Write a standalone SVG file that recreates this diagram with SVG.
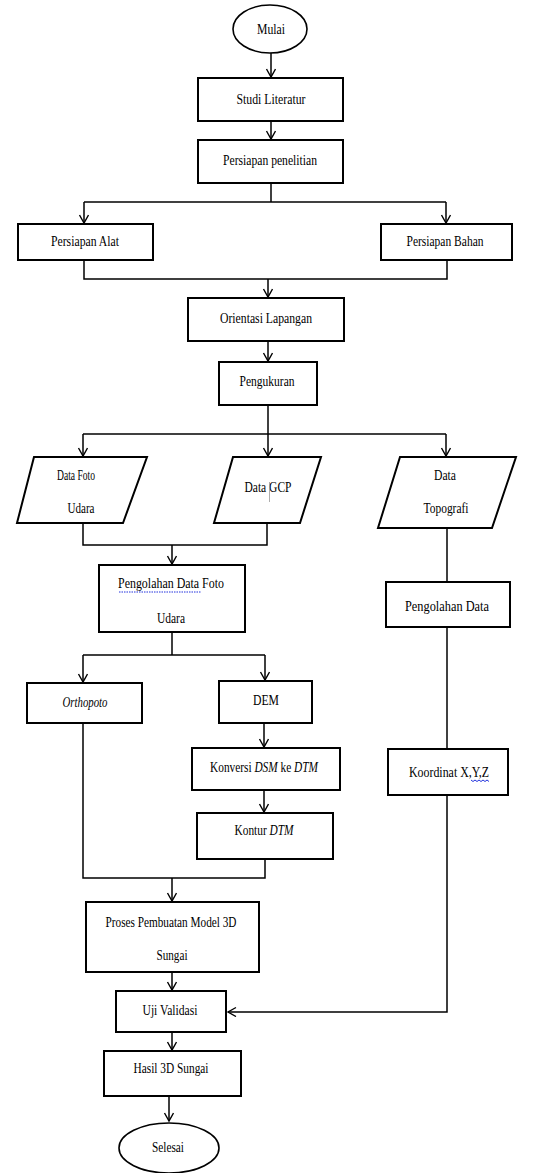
<svg xmlns="http://www.w3.org/2000/svg" width="533" height="1173" viewBox="0 0 533 1173">
<defs>
<marker id="arr" markerUnits="userSpaceOnUse" markerWidth="12" markerHeight="12" refX="9" refY="5" orient="auto">
<path d="M1,0.5 L9,5 L1,9.5" fill="none" stroke="#000" stroke-width="1.4"/>
</marker>
<style>
.box{fill:#fff;stroke:#000;stroke-width:2}
.t{font-family:"Liberation Serif","Times New Roman",serif;font-size:15px;fill:#000;text-anchor:middle}
.it{font-style:italic}
.ln{fill:none;stroke:#000;stroke-width:1.5}
.ar{fill:none;stroke:#000;stroke-width:1.5;marker-end:url(#arr)}
.sq{fill:none;stroke:#2233dd;stroke-width:1;stroke-dasharray:1.5 1}
</style>
</defs>
<rect width="533" height="1173" fill="#fff"/>
<g id="connectors">
<line class="ar" x1="271" y1="53" x2="271" y2="77"/>
<line class="ar" x1="271" y1="121" x2="271" y2="139"/>
<polyline class="ln" points="271,183 271,202"/>
<polyline class="ln" points="84,202 446,202"/>
<line class="ar" x1="84" y1="202" x2="84" y2="223"/>
<line class="ar" x1="446" y1="202" x2="446" y2="223"/>
<polyline class="ln" points="84,260 84,279 447,279 447,260"/>
<line class="ar" x1="268" y1="279" x2="268" y2="297"/>
<line class="ar" x1="268" y1="341" x2="268" y2="361"/>
<polyline class="ln" points="268,405 268,434"/>
<polyline class="ln" points="83,434 446,434"/>
<line class="ar" x1="83" y1="434" x2="83" y2="456"/>
<line class="ar" x1="268" y1="434" x2="268" y2="456"/>
<line class="ar" x1="446" y1="434" x2="446" y2="456"/>
<polyline class="ln" points="83,523 83,545 267,545 267,523"/>
<line class="ar" x1="172" y1="545" x2="172" y2="564"/>
<polyline class="ln" points="447,528 447,582"/>
<polyline class="ln" points="172,632 172,655"/>
<polyline class="ln" points="83,655 265,655"/>
<line class="ar" x1="83" y1="655" x2="83" y2="682"/>
<line class="ar" x1="265" y1="655" x2="265" y2="680"/>
<line class="ar" x1="264" y1="723" x2="264" y2="747"/>
<line class="ar" x1="264" y1="790" x2="264" y2="812"/>
<polyline class="ln" points="83,723 83,878 265,878 265,859"/>
<line class="ar" x1="172" y1="878" x2="172" y2="901"/>
<polyline class="ln" points="447,627 447,749"/>
<polyline class="ar" points="447,795 447,1012 228,1012"/>
<line class="ar" x1="172" y1="972" x2="172" y2="990"/>
<line class="ar" x1="172" y1="1032" x2="172" y2="1050"/>
<line class="ar" x1="169" y1="1096" x2="169" y2="1121"/>
</g>
<g id="mulai">
<ellipse cx="270" cy="29" rx="37" ry="24" fill="#fff" stroke="#000" stroke-width="1.6"/>
<text class="t" x="271" y="34" textLength="28" lengthAdjust="spacingAndGlyphs">Mulai</text>
</g>
<g id="studi">
<rect class="box" x="198" y="78" width="145" height="43"/>
<text class="t" x="271" y="104" textLength="69" lengthAdjust="spacingAndGlyphs">Studi Literatur</text>
</g>
<g id="persiapan-penelitian">
<rect class="box" x="198" y="140" width="145" height="43"/>
<text class="t" x="270" y="165" textLength="94" lengthAdjust="spacingAndGlyphs">Persiapan penelitian</text>
</g>
<g id="persiapan-alat">
<rect class="box" x="18" y="224" width="135" height="36"/>
<text class="t" x="85" y="246" textLength="68" lengthAdjust="spacingAndGlyphs">Persiapan Alat</text>
</g>
<g id="persiapan-bahan">
<rect class="box" x="381" y="224" width="131" height="36"/>
<text class="t" x="445" y="246" textLength="77" lengthAdjust="spacingAndGlyphs">Persiapan Bahan</text>
</g>
<g id="orientasi">
<rect class="box" x="188" y="298" width="156" height="43"/>
<text class="t" x="266" y="323" textLength="92" lengthAdjust="spacingAndGlyphs">Orientasi Lapangan</text>
</g>
<g id="pengukuran">
<rect class="box" x="219" y="362" width="98" height="43"/>
<text class="t" x="267" y="386" textLength="55" lengthAdjust="spacingAndGlyphs">Pengukuran</text>
</g>
<g id="data-foto-udara">
<polygon class="box" points="34,457 147,457 123,523 17,523"/>
<text class="t" x="76" y="480" textLength="38" lengthAdjust="spacingAndGlyphs">Data Foto</text>
<text class="t" x="81" y="513" textLength="27" lengthAdjust="spacingAndGlyphs">Udara</text>
</g>
<g id="data-gcp">
<polygon class="box" points="233,457 321,457 300,523 214,523"/>
<text class="t" x="268" y="492" textLength="47" lengthAdjust="spacingAndGlyphs">Data GCP</text>
<line x1="269.5" y1="482" x2="269.5" y2="502" stroke="#999" stroke-width="0.8"/>
</g>
<g id="data-topografi">
<polygon class="box" points="400,457 516,457 492,528 378,528"/>
<text class="t" x="445" y="480" textLength="22" lengthAdjust="spacingAndGlyphs">Data</text>
<text class="t" x="446" y="513" textLength="45" lengthAdjust="spacingAndGlyphs">Topografi</text>
</g>
<g id="pengolahan-foto">
<rect class="box" x="99" y="565" width="146" height="67"/>
<text class="t" x="171" y="588" textLength="106" lengthAdjust="spacingAndGlyphs">Pengolahan Data Foto</text>
<text class="t" x="171" y="623" textLength="28" lengthAdjust="spacingAndGlyphs">Udara</text>
<line class="sq" x1="119" y1="592" x2="201" y2="592"/>
</g>
<g id="pengolahan-data">
<rect class="box" x="386" y="582" width="124" height="45"/>
<text class="t" x="447" y="611" font-size="17" textLength="84" lengthAdjust="spacingAndGlyphs">Pengolahan Data</text>
</g>
<g id="orthopoto">
<rect class="box" x="27" y="683" width="115" height="40"/>
<text class="t it" x="85" y="707" font-family="Liberation Sans, Arial, sans-serif" font-size="13" textLength="45" lengthAdjust="spacingAndGlyphs">Orthopoto</text>
</g>
<g id="dem">
<rect class="box" x="219" y="681" width="93" height="42"/>
<text class="t" x="266" y="705" font-size="16" textLength="26" lengthAdjust="spacingAndGlyphs">DEM</text>
</g>
<g id="konversi">
<rect class="box" x="192" y="748" width="148" height="42"/>
<text class="t" transform="translate(264,772) scale(0.755,1)" x="0" y="0">Konversi <tspan class="it">DSM</tspan> ke <tspan class="it">DTM</tspan></text>
</g>
<g id="kontur">
<rect class="box" x="197" y="813" width="136" height="46"/>
<text class="t" transform="translate(264,835) scale(0.757,1)" x="0" y="0">Kontur <tspan class="it">DTM</tspan></text>
</g>
<g id="koordinat">
<rect class="box" x="388" y="749" width="120" height="46"/>
<text class="t" x="449" y="777" textLength="80" lengthAdjust="spacingAndGlyphs">Koordinat X,Y,Z</text>
<path d="M471,780 l2,1.5 l2,-1.5 l2,1.5 l2,-1.5 l2,1.5 l2,-1.5 l2,1.5 l2,-1.5 l2,1.5" fill="none" stroke="#2233dd" stroke-width="1"/>
</g>
<g id="proses">
<rect class="box" x="86" y="902" width="173" height="70"/>
<text class="t" x="171" y="927" textLength="131" lengthAdjust="spacingAndGlyphs">Proses Pembuatan Model 3D</text>
<text class="t" x="172" y="960" textLength="31" lengthAdjust="spacingAndGlyphs">Sungai</text>
</g>
<g id="uji">
<rect class="box" x="116" y="991" width="110" height="41"/>
<text class="t" x="170" y="1015" textLength="55" lengthAdjust="spacingAndGlyphs">Uji Validasi</text>
</g>
<g id="hasil">
<rect class="box" x="104" y="1051" width="137" height="45"/>
<text class="t" x="171" y="1073" textLength="75" lengthAdjust="spacingAndGlyphs">Hasil 3D Sungai</text>
</g>
<g id="selesai">
<ellipse cx="169" cy="1148" rx="50" ry="25" fill="#fff" stroke="#000" stroke-width="1.6"/>
<text class="t" x="168" y="1152" textLength="32" lengthAdjust="spacingAndGlyphs">Selesai</text>
</g>
</svg>
